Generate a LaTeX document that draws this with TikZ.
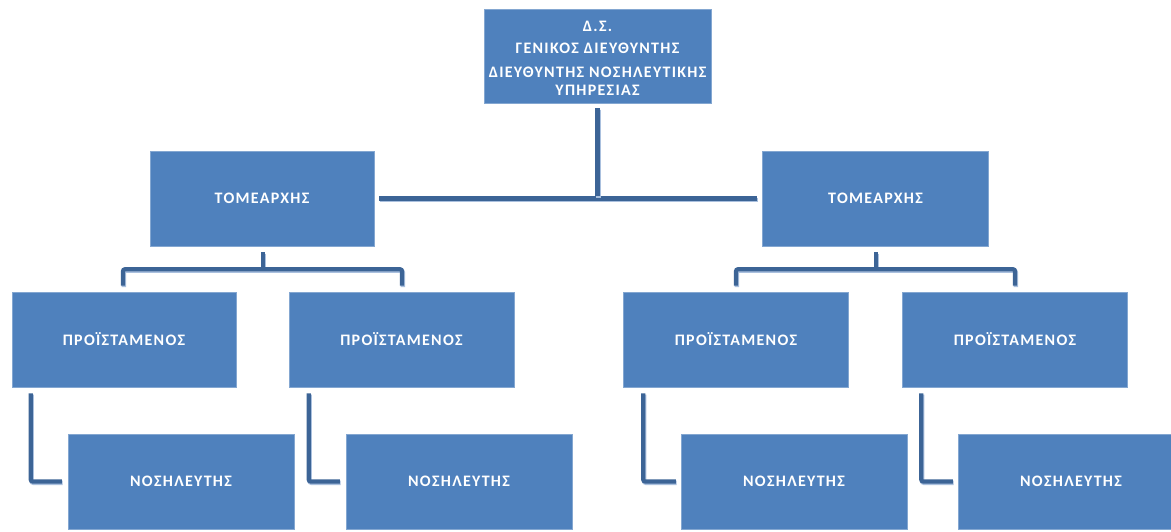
\documentclass[tikz,border=0pt]{standalone}
\usepackage{fontspec}
\setmainfont{Carlito}
\newfontfamily\boxfont{Carlito}[LetterSpace=8]
\usetikzlibrary{calc}

\definecolor{boxblue}{RGB}{79,129,189}
\definecolor{linkblue}{RGB}{60,100,150}
\definecolor{linkshade}{RGB}{170,192,222}

\tikzset{
  boxtext/.style={inner sep=0pt, text=white,
    font=\boxfont\bfseries\fontsize{16}{18}\selectfont, align=center},
  orgbox/.style={boxtext, rectangle, fill=boxblue, draw=boxblue!70!white, line width=0.5pt,
    minimum width=226pt, minimum height=95pt},
  linkshadow/.style={draw=linkshade, line width=4.5pt, rounded corners=2pt},
  link/.style={draw=linkblue, line width=4.2pt, rounded corners=2pt}
}

% draws a connector with its soft shadow
\newcommand{\orglink}[1]{%
  \draw[linkshadow, transform canvas={shift={(0.8pt,-1.3pt)}}] #1;
  \draw[link] #1;
}

\begin{document}
\begin{tikzpicture}[x=1pt, y=1pt]
  \clip (0,0) rectangle (1171,531);
  \fill[white] (0,0) rectangle (1171,531);

  % top level
  \node[orgbox, minimum width=227pt, minimum height=94pt] (top) at (597.5,475) {};
  \node[boxtext] (toptext) at ($(top.center)+(0,-2.5)$)
    {Δ.Σ.\\[4pt] ΓΕΝΙΚΟΣ ΔΙΕΥΘΥΝΤΗΣ\\[6pt] ΔΙΕΥΘΥΝΤΗΣ ΝΟΣΗΛΕΥΤΙΚΗΣ\\ ΥΠΗΡΕΣΙΑΣ};

  % sector heads
  \node[orgbox, minimum width=224pt] (secL) at (262,332.5) {ΤΟΜΕΑΡΧΗΣ};
  \node[orgbox] (secR) at (875.5,332.5) {ΤΟΜΕΑΡΧΗΣ};

  % heads of unit
  \node[orgbox, minimum width=224pt] (p1) at (124,191.5) {ΠΡΟΪΣΤΑΜΕΝΟΣ};
  \node[orgbox, minimum width=225pt] (p2) at (401.5,191.5) {ΠΡΟΪΣΤΑΜΕΝΟΣ};
  \node[orgbox, minimum width=225pt] (p3) at (736,191.5) {ΠΡΟΪΣΤΑΜΕΝΟΣ};
  \node[orgbox, minimum width=225pt] (p4) at (1015,191.5) {ΠΡΟΪΣΤΑΜΕΝΟΣ};

  % nurses
  \node[orgbox] (n1) at (181,49.5) {ΝΟΣΗΛΕΥΤΗΣ};
  \node[orgbox] (n2) at (459,49.5) {ΝΟΣΗΛΕΥΤΗΣ};
  \node[orgbox] (n3) at (794,49.5) {ΝΟΣΗΛΕΥΤΗΣ};
  \node[orgbox] (n4) at (1071,49.5) {ΝΟΣΗΛΕΥΤΗΣ};

  % top level to sector heads
  \orglink{($(secL.east)+(5,0)$) -- ($(secR.west)+(-5,0)$)}
  \orglink{($(top.south)+(0,-5)$) -- ($(top.south |- secL.east)+(0,2)$)}

  % sector heads to heads of unit
  \orglink{($(secL.south)+(1,-6)$) -- ($(secL.south)+(1,-21)$)}
  \orglink{($(p1.north)+(-1,6)$) |- ($(secL.south)+(0,-23)$) -| ($(p2.north)+(0.5,6)$)}
  \orglink{($(secR.south)+(0.5,-6)$) -- ($(secR.south)+(0.5,-21)$)}
  \orglink{($(p3.north)+(0,6)$) |- ($(secR.south)+(0,-23)$) -| ($(p4.north)+(0,6)$)}

  % heads of unit to nurses
  \orglink{($(p1.south west)+(19,-6)$) |- ($(n1.west)+(-6,0)$)}
  \orglink{($(p2.south west)+(20,-6)$) |- ($(n2.west)+(-6,0)$)}
  \orglink{($(p3.south west)+(20,-6)$) |- ($(n3.west)+(-5,0)$)}
  \orglink{($(p4.south west)+(19,-6)$) |- ($(n4.west)+(-5,0)$)}
\end{tikzpicture}
\end{document}
